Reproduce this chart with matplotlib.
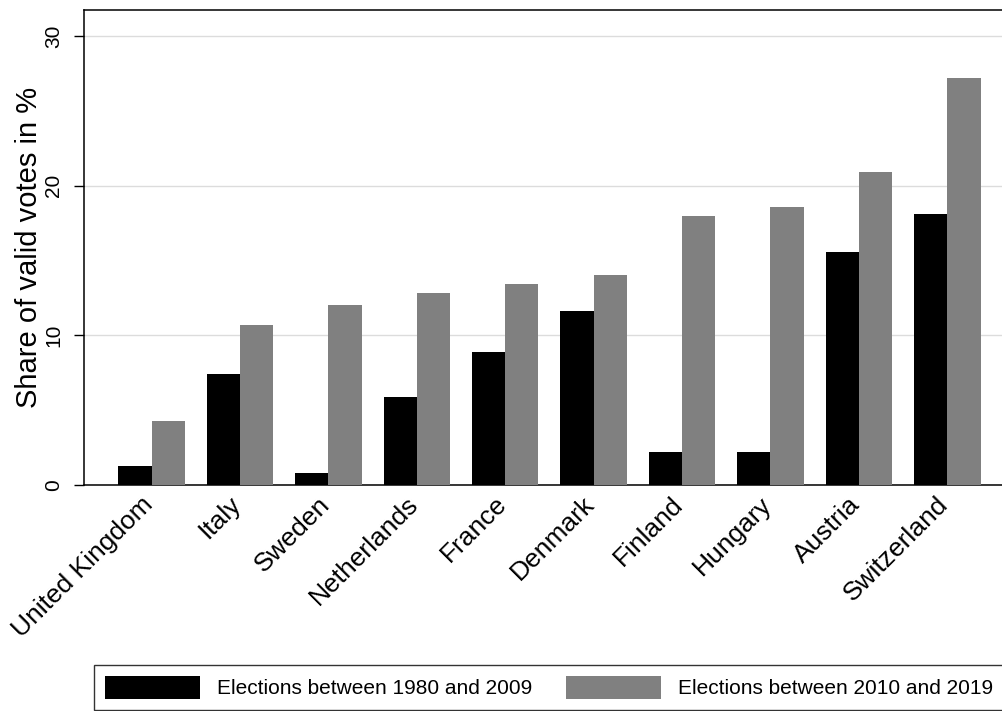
import matplotlib
matplotlib.use("Agg")
import matplotlib.pyplot as plt
from matplotlib.patches import Patch
from matplotlib.transforms import ScaledTranslation
import numpy as np

plt.rcParams['font.family'] = ['Liberation Sans', 'DejaVu Sans']

countries = ["United Kingdom", "Italy", "Sweden", "Netherlands", "France",
             "Denmark", "Finland", "Hungary", "Austria", "Switzerland"]
early = [1.3, 7.4, 0.8, 5.9, 8.9, 11.6, 2.2, 2.2, 15.6, 18.1]
late = [4.3, 10.7, 12.0, 12.8, 13.4, 14.0, 18.0, 18.6, 20.9, 27.2]
yticks = [0, 10, 20, 30]
label_early = "Elections between 1980 and 2009"
label_late = "Elections between 2010 and 2019"

W, H = 1003, 711
fig = plt.figure(figsize=(W / 100, H / 100), dpi=100)
ax_l, ax_r, ax_t, ax_b = 84.3, 1014.5, 10, 485
ax = fig.add_axes([ax_l / W, 1 - ax_b / H, (ax_r - ax_l) / W, (ax_b - ax_t) / H])

x = np.arange(len(countries))
bw = 0.3757
ax.bar(x - bw / 2, early, width=bw, color="#000000", label=label_early, zorder=3)
ax.bar(x + bw / 2, late, width=bw, color="#808080", label=label_late, zorder=3)

ax.set_xlim(-0.76, len(countries) - 1 + 0.76)
ax.set_ylim(0, 31.74)
ax.set_yticks(yticks)
ax.set_yticklabels([str(t) for t in yticks], rotation=90, va="center", fontsize=15)
ax.tick_params(axis="y", length=7, width=1, pad=8)
ax.yaxis.grid(True, color="#dcdcdc", linewidth=1.0, zorder=0)
ax.set_axisbelow(True)

ax.set_xticks(x)
ax.set_xticklabels(countries, rotation=45, ha="right", va="top",
                   rotation_mode="anchor", fontsize=19)
ax.tick_params(axis="x", length=0, pad=5)
shift = ScaledTranslation(-11 / 100, 0, fig.dpi_scale_trans)
for lab in ax.get_xticklabels():
    lab.set_transform(lab.get_transform() + shift)

ax.set_ylabel("Share of valid votes in %", fontsize=21)
ax.yaxis.set_label_coords((43 - ax_l) / (ax_r - ax_l), 0.5)

for s in ["left", "top", "bottom"]:
    ax.spines[s].set_linewidth(1.1)
    ax.spines[s].set_color("black")
ax.spines["right"].set_visible(False)

handles = [Patch(facecolor="#000000", label=label_early),
           Patch(facecolor="#808080", label=label_late)]
leg = fig.legend(handles=handles, loc="upper left",
                 bbox_to_anchor=(94 / W, 1 - 665 / H), ncol=2, fontsize=15,
                 frameon=True, fancybox=False, edgecolor="black",
                 handlelength=4.57, handleheight=1.3, handletextpad=0.8,
                 columnspacing=1.63, borderpad=0.53, borderaxespad=0)
leg.get_frame().set_linewidth(1.0)

fig.savefig("out.png", dpi=100)
